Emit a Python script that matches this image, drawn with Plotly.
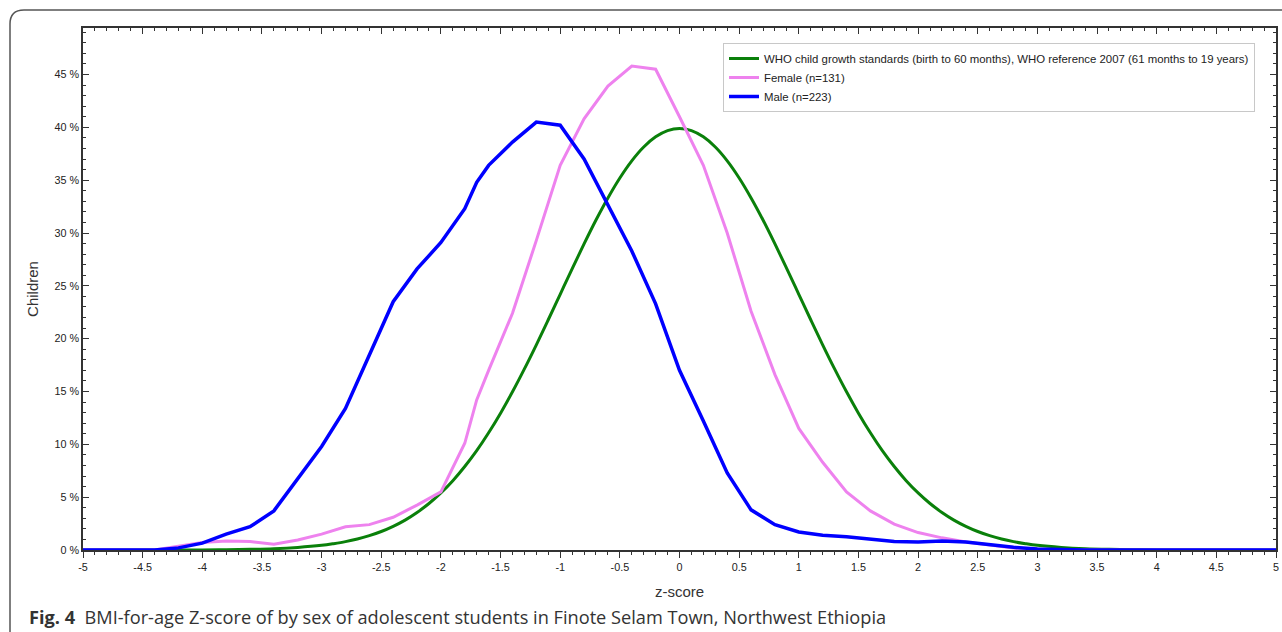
import plotly.graph_objects as go

# ---------------- data ----------------
who_z = [-5.0, -4.0, -3.8, -3.6, -3.4, -3.2, -3.0, -2.9, -2.8, -2.7, -2.6, -2.5, -2.4, -2.3, -2.2,
         -2.1, -2.0, -1.9, -1.8, -1.7, -1.6, -1.5, -1.4, -1.3, -1.2, -1.1, -1.0, -0.9, -0.8,
         -0.7, -0.6, -0.5, -0.4, -0.3, -0.2, -0.1, 0.0, 0.1, 0.2, 0.3, 0.4, 0.5, 0.6, 0.7,
         0.8, 0.9, 1.0, 1.1, 1.2, 1.3, 1.4, 1.5, 1.6, 1.7, 1.8, 1.9, 2.0, 2.1, 2.2, 2.3,
         2.4, 2.5, 2.6, 2.7, 2.8, 2.9, 3.0, 3.2, 3.4, 3.6, 3.8, 4.0, 5.0]
who_pct = [0.0, 0.01, 0.03, 0.06, 0.12, 0.24, 0.44, 0.60, 0.79, 1.04, 1.36, 1.75, 2.24, 2.83, 3.55,
           4.40, 5.40, 6.56, 7.90, 9.40, 11.09, 12.95, 14.97, 17.14, 19.42, 21.79, 24.20, 26.61, 28.97,
           31.23, 33.32, 35.21, 36.83, 38.14, 39.10, 39.69, 39.89, 39.69, 39.10, 38.14, 36.83, 35.21, 33.32, 31.23,
           28.97, 26.61, 24.20, 21.79, 19.42, 17.14, 14.97, 12.95, 11.09, 9.40, 7.90, 6.56, 5.40, 4.40, 3.55, 2.83,
           2.24, 1.75, 1.36, 1.04, 0.79, 0.60, 0.44, 0.24, 0.12, 0.06, 0.03, 0.01, 0.0]

female_z = [-5.0, -4.4, -4.2, -4.0, -3.8, -3.6, -3.4, -3.2, -3.0, -2.8, -2.6, -2.4, -2.2, -2.0,
            -1.8, -1.7, -1.6, -1.4, -1.2, -1.0, -0.8, -0.6, -0.4, -0.2, 0.0, 0.2, 0.4, 0.6,
            0.8, 1.0, 1.2, 1.4, 1.6, 1.8, 2.0, 2.2, 2.4, 2.6, 2.8, 3.0, 3.2, 5.0]
female_pct = [0.0, 0.0, 0.35, 0.7, 0.85, 0.8, 0.55, 0.95, 1.5, 2.2, 2.4, 3.1, 4.25, 5.5,
              10.1, 14.2, 17.0, 22.4, 29.3, 36.4, 40.8, 43.9, 45.8, 45.5, 41.0, 36.4, 30.0, 22.6,
              16.6, 11.5, 8.3, 5.5, 3.7, 2.45, 1.65, 1.15, 0.75, 0.45, 0.2, 0.08, 0.0, 0.0]

male_z = [-5.0, -4.4, -4.2, -4.0, -3.8, -3.6, -3.4, -3.2, -3.0, -2.8, -2.6, -2.4, -2.2, -2.0,
          -1.8, -1.7, -1.6, -1.4, -1.2, -1.0, -0.8, -0.6, -0.4, -0.2, 0.0, 0.2, 0.4, 0.6,
          0.8, 1.0, 1.2, 1.4, 1.6, 1.8, 2.0, 2.2, 2.4, 2.6, 2.8, 3.0, 3.2, 3.4, 5.0]
male_pct = [0.0, 0.0, 0.2, 0.65, 1.5, 2.2, 3.7, 6.7, 9.8, 13.4, 18.4, 23.5, 26.6, 29.1,
            32.3, 34.8, 36.4, 38.6, 40.5, 40.2, 37.0, 32.6, 28.3, 23.3, 17.0, 12.2, 7.3, 3.8,
            2.4, 1.7, 1.4, 1.25, 1.05, 0.8, 0.75, 0.85, 0.75, 0.5, 0.25, 0.1, 0.03, 0.0, 0.0]

series_names = ["WHO child growth standards (birth to 60 months), WHO reference 2007 (61 months to 19 years)",
                "Female (n=131)", "Male (n=223)"]
series_colors = ["#0a800a", "#ee82ee", "#0000ff"]

x_tickvals = [-5, -4.5, -4, -3.5, -3, -2.5, -2, -1.5, -1, -0.5, 0, 0.5, 1, 1.5, 2, 2.5, 3, 3.5, 4, 4.5, 5]
x_ticktext = ["-5", "-4.5", "-4", "-3.5", "-3", "-2.5", "-2", "-1.5", "-1", "-0.5", "0",
              "0.5", "1", "1.5", "2", "2.5", "3", "3.5", "4", "4.5", "5"]
y_tickvals = [0, 5, 10, 15, 20, 25, 30, 35, 40, 45]
y_ticktext = ["0 %", "5 %", "10 %", "15 %", "20 %", "25 %", "30 %", "35 %", "40 %", "45 %"]

x_title = "z-score"
y_title = "Children"
caption_bold = "Fig. 4"
caption_text = "BMI-for-age Z-score of by sex of adolescent students in Finote Selam Town, Northwest Ethiopia"

# ---------------- figure ----------------
W, H = 1282, 632
ML, MR, MT, MB = 83, 6, 28, 82
PW, PH = W - ML - MR, H - MT - MB


def px_x(p):
    return (p - ML) / PW


def px_y(p):
    return (H - MB - p) / PH


fig = go.Figure()
fig.add_trace(go.Scatter(x=who_z, y=who_pct, mode="lines", name=series_names[0],
                         line=dict(color=series_colors[0], width=3, shape="spline", smoothing=1.0)))
fig.add_trace(go.Scatter(x=female_z, y=female_pct, mode="lines", name=series_names[1],
                         line=dict(color=series_colors[1], width=3)))
fig.add_trace(go.Scatter(x=male_z, y=male_pct, mode="lines", name=series_names[2],
                         line=dict(color=series_colors[2], width=3.5)))

# invisible trace for mirrored top/right axes
fig.add_trace(go.Scatter(x=[-5, 5], y=[0, 0], xaxis="x2", yaxis="y2", mode="lines",
                         line=dict(width=0), showlegend=False, hoverinfo="skip"))

tick_font = dict(family="Liberation Sans, Arial, sans-serif", size=10.8, color="#222")
axis_col = "#333"

fig.update_layout(
    width=W, height=H,
    margin=dict(l=ML, r=MR, t=MT, b=MB, autoexpand=False),
    paper_bgcolor="white", plot_bgcolor="white",
    xaxis=dict(range=[-5, 5], tickmode="array", tickvals=x_tickvals, ticktext=x_ticktext,
               showgrid=False, zeroline=False, showline=True, linecolor=axis_col, linewidth=1.5,
               ticks="outside", ticklen=6, tickwidth=1.2, tickcolor=axis_col, tickfont=tick_font,
               minor=dict(dtick=0.1, tick0=0, ticks="outside", ticklen=3, tickwidth=1, tickcolor=axis_col),
               title=dict(text=x_title, standoff=15,
                          font=dict(family="Liberation Sans, Arial, sans-serif", size=15, color="#333")),
               automargin=False),
    xaxis2=dict(range=[-5, 5], overlaying="x", side="top", tickmode="array", tickvals=x_tickvals,
                showticklabels=False, showgrid=False, zeroline=False, showline=True, linecolor=axis_col,
                linewidth=1.5, ticks="inside", ticklen=6, tickwidth=1.2, tickcolor=axis_col,
                minor=dict(dtick=0.1, tick0=0, ticks="inside", ticklen=3, tickwidth=1, tickcolor=axis_col)),
    yaxis=dict(range=[0, 49.4], tickmode="array", tickvals=y_tickvals, ticktext=y_ticktext,
               showgrid=False, zeroline=False, showline=True, linecolor=axis_col, linewidth=1.5,
               ticks="inside", ticklen=6, tickwidth=1.2, tickcolor=axis_col, tickfont=tick_font,
               minor=dict(dtick=1, tick0=0, ticks="inside", ticklen=3, tickwidth=1, tickcolor=axis_col),
               title=dict(text=y_title, standoff=12,
                          font=dict(family="Liberation Sans, Arial, sans-serif", size=15, color="#333")),
               automargin=False),
    yaxis2=dict(range=[0, 49.4], overlaying="y", side="right", tickmode="array", tickvals=y_tickvals,
                showticklabels=False, showgrid=False, zeroline=False, showline=True, linecolor=axis_col,
                linewidth=1.5, ticks="inside", ticklen=6, tickwidth=1.2, tickcolor=axis_col,
                minor=dict(dtick=1, tick0=0, ticks="inside", ticklen=3, tickwidth=1, tickcolor=axis_col)),
    legend=dict(x=px_x(723), y=px_y(43), xanchor="left", yanchor="top",
                bgcolor="white", bordercolor="#c8c8c8", borderwidth=1,
                font=dict(family="Liberation Sans, Arial, sans-serif", size=11.4, color="#222"),
                tracegroupgap=0, itemwidth=30),
    showlegend=True,
)

# rounded outer frame (top-left corner visible)
r = 14
x0, y0 = px_x(10), px_y(10)
xr = px_x(W + 5)
yb = px_y(H + 5)
path = (f"M {x0},{yb} L {x0},{px_y(10 + r)} "
        f"Q {x0},{y0} {px_x(10 + r)},{y0} L {xr},{y0}")
fig.add_shape(type="path", path=path, xref="paper", yref="paper",
              line=dict(color="#555", width=1.5), layer="below")

fig.add_annotation(x=px_x(27), y=px_y(617), xref="paper", yref="paper", xanchor="left", yanchor="middle",
                   showarrow=False,
                   text=f"<b>{caption_bold}</b>  {caption_text}",
                   font=dict(family="Open Sans, Noto Sans, sans-serif", size=18.2, color="#333"))

fig.write_html("out.html")
